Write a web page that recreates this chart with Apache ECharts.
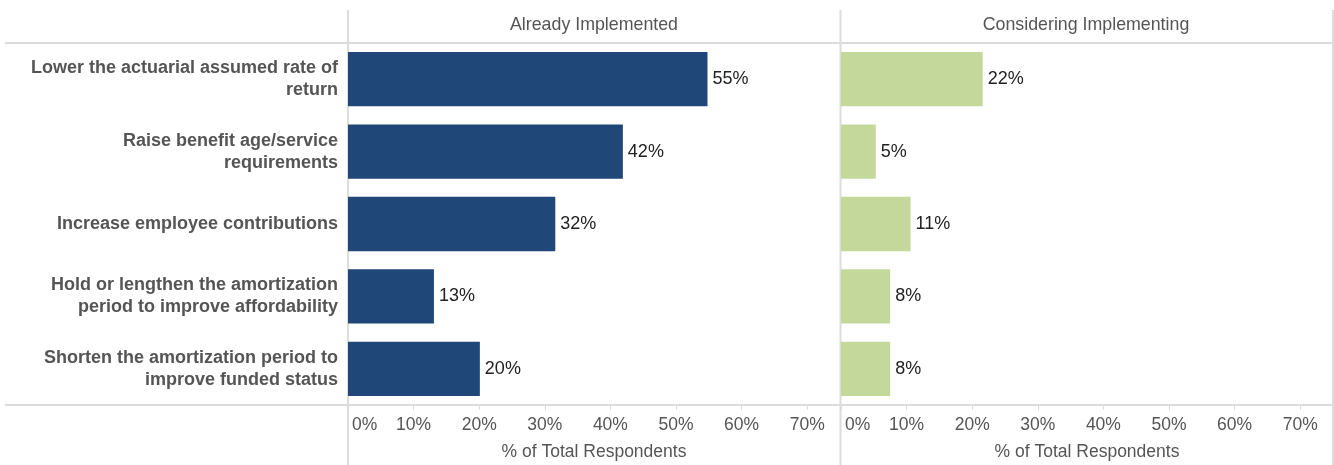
<!DOCTYPE html>
<html>
<head>
<meta charset="utf-8">
<script src="https://cdn.jsdelivr.net/npm/echarts@6/dist/echarts.min.js"></script>
<style>html,body{margin:0;padding:0;background:#fff}#c{width:1334px;height:465px}</style>
</head>
<body>
<div id="c"></div>
<script>
const categories = [
  'Lower the actuarial assumed rate of\nreturn',
  'Raise benefit age/service\nrequirements',
  'Increase employee contributions',
  'Hold or lengthen the amortization\nperiod to improve affordability',
  'Shorten the amortization period to\nimprove funded status'
];
const panelTitles = ['Already Implemented', 'Considering Implementing'];
const alreadyImplemented = [54.8, 41.9, 31.6, 13.1, 20.1];
const consideringImplementing = [21.6, 5.3, 10.6, 7.5, 7.5];
const axisTitle = '% of Total Respondents';

const FONT = '"Liberation Sans", Arial, sans-serif';
const chart = echarts.init(document.getElementById('c'));
const lineColor = '#dcdcdc';

function xAx(gi){
  return {
    type: 'value', gridIndex: gi, min: 0, max: 75, interval: 10,
    name: axisTitle, nameLocation: 'middle', nameGap: 38,
    nameTextStyle: {fontFamily: FONT, fontSize: 17.5, color: '#555'},
    axisLine: {show: false},
    axisTick: {show: true, length: 5, lineStyle: {color: lineColor}},
    splitLine: {show: false},
    axisLabel: {
      fontFamily: FONT, fontSize: 17.5, color: '#555', margin: 11,
      alignMinLabel: 'left', showMaxLabel: true,
      rich: {m: {fontFamily: FONT, fontSize: 17.5, color: '#555', padding: [0, 0, 0, 4]}},
      formatter: v => (v === 0 ? '{m|0%}' : (v % 10 === 0 ? v + '%' : ''))
    }
  };
}
function yAx(gi, show){
  return {
    type: 'category', gridIndex: gi, data: categories, inverse: true,
    axisLine: {show: false}, axisTick: {show: false}, splitLine: {show: false},
    axisLabel: show ? {
      fontFamily: FONT, fontSize: 18, fontWeight: 'bold', color: '#555',
      lineHeight: 22, margin: 10, align: 'right'
    } : {show: false}
  };
}
function ser(gi, data, color){
  return {
    type: 'bar', xAxisIndex: gi, yAxisIndex: gi, data: data,
    barCategoryGap: '25%',
    itemStyle: {color: color},
    label: {show: true, position: 'right', distance: 5,
      fontFamily: FONT, fontSize: 18, color: '#222',
      formatter: p => Math.round(p.value) + '%'},
    silent: true, animation: false
  };
}
function hline(y){ return {type:'line', shape:{x1:5,y1:y,x2:1334,y2:y}, style:{stroke:lineColor, lineWidth:2}}; }
function vline(x){ return {type:'line', shape:{x1:x,y1:10,x2:x,y2:465}, style:{stroke:lineColor, lineWidth:2}}; }

chart.setOption({
  animation: false,
  grid: [
    {left: 348, top: 43, width: 492, height: 362, outerBoundsMode: 'none'},
    {left: 841, top: 43, width: 492, height: 362, outerBoundsMode: 'none'}
  ],
  xAxis: [xAx(0), xAx(1)],
  yAxis: [yAx(0, true), yAx(1, false)],
  series: [ser(0, alreadyImplemented, '#1f4778'), ser(1, consideringImplementing, '#c5d89b')],
  graphic: [
    hline(43), hline(405), vline(348), vline(840.5), vline(1333),
    {type:'text', x: 594, y: 25, style:{text: panelTitles[0], font: '17.8px ' + FONT, fill:'#555', align:'center', verticalAlign:'middle'}},
    {type:'text', x: 1086, y: 25, style:{text: panelTitles[1], font: '17.8px ' + FONT, fill:'#555', align:'center', verticalAlign:'middle'}}
  ]
});
</script>
</body>
</html>
